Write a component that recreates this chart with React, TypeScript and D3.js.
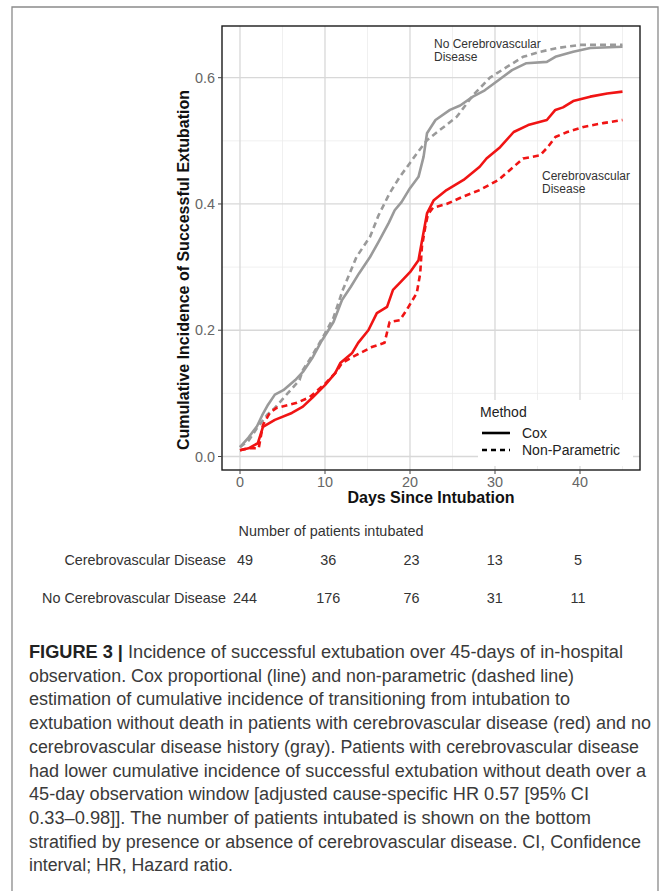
import React from "react";
import * as d3 from "d3";

// ---------- data ----------
const grayCoxDays = [0, 1, 2, 2.6, 3.3, 4.1, 5.1, 6.5, 7.4, 8.5, 9.6, 10.4, 11, 12, 13, 14, 15.3, 16.3, 17.5, 18.2, 19, 20, 21, 21.6, 22, 23, 24.7, 25.9, 27.4, 28.8, 30.4, 32, 33.7, 36.1, 37.1, 39.2, 41.2, 45];
const grayCoxVals = [0.015, 0.03, 0.048, 0.065, 0.082, 0.098, 0.105, 0.121, 0.134, 0.156, 0.183, 0.2, 0.213, 0.248, 0.268, 0.29, 0.316, 0.34, 0.37, 0.39, 0.403, 0.425, 0.443, 0.475, 0.512, 0.533, 0.549, 0.556, 0.57, 0.58, 0.596, 0.612, 0.623, 0.625, 0.633, 0.641, 0.647, 0.649];

const grayNpDays = [0, 1, 2, 3.2, 4.1, 5.6, 7, 7.4, 8.5, 10, 11, 12.1, 13.7, 15.3, 16.3, 17.6, 18.8, 20, 20.8, 22, 23.5, 25.5, 27.4, 29.4, 31.4, 33.3, 35.3, 37.3, 40, 45];
const grayNpVals = [0.015, 0.025, 0.045, 0.066, 0.077, 0.1, 0.121, 0.137, 0.16, 0.195, 0.22, 0.264, 0.316, 0.348, 0.382, 0.417, 0.443, 0.465, 0.48, 0.501, 0.517, 0.538, 0.572, 0.6, 0.617, 0.633, 0.641, 0.647, 0.652, 0.652];

const redCoxDays = [0, 1, 2.1, 2.7, 4.1, 6.1, 7.4, 8.5, 10, 11.2, 11.8, 13.2, 13.9, 15.1, 16.1, 17.3, 18, 18.8, 20, 21, 21.5, 22, 22.8, 24.3, 26.3, 28.2, 29, 30.6, 32.2, 33.9, 36.1, 37.1, 38, 39.2, 41.2, 43.2, 45];
const redCoxVals = [0.01, 0.013, 0.021, 0.047, 0.058, 0.069, 0.079, 0.093, 0.113, 0.132, 0.148, 0.164, 0.18, 0.2, 0.227, 0.237, 0.264, 0.275, 0.292, 0.311, 0.348, 0.385, 0.406, 0.422, 0.438, 0.459, 0.472, 0.49, 0.514, 0.525, 0.533, 0.549, 0.553, 0.563, 0.57, 0.575, 0.578];

const redNpDays = [0, 1, 2.2, 2.7, 3.5, 4.3, 6.7, 8.2, 10, 11.2, 12, 13.3, 15.6, 17, 17.6, 18.8, 19.6, 20.8, 21.2, 21.4, 21.8, 22.1, 22.7, 24.3, 26.3, 28.2, 30.4, 32.2, 33.3, 35.3, 36.2, 37.1, 38.5, 40.4, 42.7, 45];
const redNpVals = [0.01, 0.013, 0.013, 0.05, 0.069, 0.077, 0.085, 0.094, 0.115, 0.132, 0.148, 0.158, 0.174, 0.18, 0.213, 0.216, 0.232, 0.259, 0.29, 0.332, 0.364, 0.383, 0.394, 0.4, 0.412, 0.422, 0.438, 0.459, 0.472, 0.477, 0.49, 0.506, 0.514, 0.522, 0.528, 0.533];

const xTicks = [0, 10, 20, 30, 40];
const xMinor = [5, 15, 25, 35, 45];
const yTicks = [0, 0.2, 0.4, 0.6];
const yMinor = [0.1, 0.3, 0.5];

const riskGroups = ["Cerebrovascular Disease", "No Cerebrovascular Disease"];
const riskDays = [0, 10, 20, 30, 40];
const riskCvd = [49, 36, 23, 13, 5];
const riskNoCvd = [244, 176, 76, 31, 11];

const captionLines = [
  "Incidence of successful extubation over 45-days of in-hospital",
  "observation. Cox proportional (line) and non-parametric (dashed line)",
  "estimation of cumulative incidence of transitioning from intubation to",
  "extubation without death in patients with cerebrovascular disease (red) and no",
  "cerebrovascular disease history (gray). Patients with cerebrovascular disease",
  "had lower cumulative incidence of successful extubation without death over a",
  "45-day observation window [adjusted cause-specific HR 0.57 [95% CI",
  "0.33\u20130.98]]. The number of patients intubated is shown on the bottom",
  "stratified by presence or absence of cerebrovascular disease. CI, Confidence",
  "interval; HR, Hazard ratio.",
];
const captionEnds = [623, 574, 570, 651, 639, 646, 589, 591, 641, 233];

// ---------- layout ----------
const W = 669;
const H = 891;
const panel = { left: 222, right: 640, top: 26, bottom: 470 };
const FONT = "'Liberation Sans', Arial, sans-serif";
const CAPFONT = "'Liberation Sans Narrow', 'Liberation Sans', Arial, sans-serif";

export default function App() {
  const x = d3.scaleLinear().domain([0, 40]).range([240, 580]);
  const y = d3.scaleLinear().domain([0, 0.6]).range([456.5, 77.7]);
  const tx = d3.scaleLinear().domain([0, 40]).range([245, 578]);

  const line = d3
    .line<[number, number]>()
    .x((d) => x(d[0]))
    .y((d) => y(d[1]));

  const zip = (a: number[], b: number[]) => a.map((v, i) => [v, b[i]] as [number, number]);

  const series = [
    { pts: zip(grayCoxDays, grayCoxVals), color: "#9a9a9a", dash: undefined },
    { pts: zip(grayNpDays, grayNpVals), color: "#9a9a9a", dash: "6,4" },
    { pts: zip(redCoxDays, redCoxVals), color: "#f01414", dash: undefined },
    { pts: zip(redNpDays, redNpVals), color: "#f01414", dash: "6,4" },
  ];

  const capX = 29;
  const capY0 = 658;
  const capStep = 23.7;

  return (
    <svg
      width={W}
      height={H}
      style={{ position: "absolute", left: 0, top: 0, background: "#fff" }}
      fontFamily={FONT}
    >
      <rect x={0} y={0} width={W} height={H} fill="#fff" />
      {/* outer frame */}
      <path d={`M12,${H} V7 H658 V${H}`} fill="none" stroke="#8a8a8a" strokeWidth={1.3} />

      {/* panel */}
      <rect x={panel.left} y={panel.top} width={panel.right - panel.left} height={panel.bottom - panel.top} fill="#fff" />
      {xMinor.map((d) => (
        <line key={"xm" + d} x1={x(d)} x2={x(d)} y1={panel.top} y2={panel.bottom} stroke="#ececec" strokeWidth={0.8} />
      ))}
      {yMinor.map((d) => (
        <line key={"ym" + d} x1={panel.left} x2={panel.right} y1={y(d)} y2={y(d)} stroke="#ececec" strokeWidth={0.8} />
      ))}
      {xTicks.map((d) => (
        <line key={"xg" + d} x1={x(d)} x2={x(d)} y1={panel.top} y2={panel.bottom} stroke="#d8d8d8" strokeWidth={1.3} />
      ))}
      {yTicks.map((d) => (
        <line key={"yg" + d} x1={panel.left} x2={panel.right} y1={y(d)} y2={y(d)} stroke="#d8d8d8" strokeWidth={1.3} />
      ))}

      {/* curves */}
      <g clipPath="url(#clipPanel)">
        {series.map((s, i) => (
          <path
            key={i}
            d={line(s.pts) || ""}
            fill="none"
            stroke={s.color}
            strokeWidth={2.6}
            strokeDasharray={s.dash}
            strokeLinejoin="round"
          />
        ))}
      </g>
      <defs>
        <clipPath id="clipPanel">
          <rect x={panel.left} y={panel.top} width={panel.right - panel.left} height={panel.bottom - panel.top} />
        </clipPath>
      </defs>

      {/* annotations */}
      <text x={434} y={48} fontSize={12} fill="#333">No Cerebrovascular</text>
      <text x={434} y={61} fontSize={12} fill="#333">Disease</text>
      <text x={542} y={180} fontSize={12} fill="#333">Cerebrovascular</text>
      <text x={542} y={193} fontSize={12} fill="#333">Disease</text>

      {/* legend */}
      <rect x={478} y={400} width={155} height={66} fill="#fff" />
      <text x={480} y={417} fontSize={14} fill="#222">Method</text>
      <line x1={482} x2={510} y1={433} y2={433} stroke="#000" strokeWidth={2.6} />
      <line x1={482} x2={510} y1={450} y2={450} stroke="#000" strokeWidth={2.6} strokeDasharray="5,4" />
      <text x={522} y={438} fontSize={14} fill="#222">Cox</text>
      <text x={522} y={455} fontSize={14} fill="#222">Non-Parametric</text>

      {/* panel border */}
      <rect x={panel.left} y={panel.top} width={panel.right - panel.left} height={panel.bottom - panel.top} fill="none" stroke="#1a1a1a" strokeWidth={1.4} />

      {/* axes */}
      {yTicks.map((d) => (
        <g key={"yt" + d}>
          <line x1={panel.left - 4} x2={panel.left} y1={y(d)} y2={y(d)} stroke="#444" strokeWidth={1} />
          <text x={panel.left - 7} y={y(d)} dy="0.36em" textAnchor="end" fontSize={14.4} fill="#666">
            {d.toFixed(1)}
          </text>
        </g>
      ))}
      {xTicks.map((d) => (
        <g key={"xt" + d}>
          <line x1={x(d)} x2={x(d)} y1={panel.bottom} y2={panel.bottom + 4} stroke="#444" strokeWidth={1} />
          <text x={x(d)} y={panel.bottom + 17} textAnchor="middle" fontSize={14.4} fill="#666">
            {d}
          </text>
        </g>
      ))}
      <text x={(panel.left + panel.right) / 2} y={503} textAnchor="middle" fontSize={16} fontWeight="bold" fill="#111">
        Days Since Intubation
      </text>
      <text
        transform={`translate(189, 270) rotate(-90)`}
        textAnchor="middle"
        fontSize={16}
        fontWeight="bold"
        fill="#111"
      >
        Cumulative Incidence of Successful Extubation
      </text>

      {/* risk table */}
      <text x={331} y={536} textAnchor="middle" fontSize={14.4} fill="#333">
        Number of patients intubated
      </text>
      {riskGroups.map((g, gi) => {
        const yy = gi === 0 ? 565 : 603;
        const vals = gi === 0 ? riskCvd : riskNoCvd;
        return (
          <g key={g}>
            <text x={226} y={yy} textAnchor="end" fontSize={14.4} fill="#333">{g}</text>
            {vals.map((v, i) => (
              <text key={i} x={tx(riskDays[i])} y={yy} textAnchor="middle" fontSize={14.4} fill="#333">{v}</text>
            ))}
          </g>
        );
      })}

      {/* caption */}
      {captionLines.map((t, i) => (
        <text
          key={i}
          x={capX}
          y={capY0 + i * capStep}
          fontSize={18}
          fontFamily={CAPFONT}
          fill="#3a3a3a"
          textLength={captionEnds[i] - capX}
          lengthAdjust="spacingAndGlyphs"
        >
          {i === 0 ? (
            <>
              <tspan fontWeight="bold" fill="#222">FIGURE 3 | </tspan>
              {t}
            </>
          ) : (
            t
          )}
        </text>
      ))}
    </svg>
  );
}
